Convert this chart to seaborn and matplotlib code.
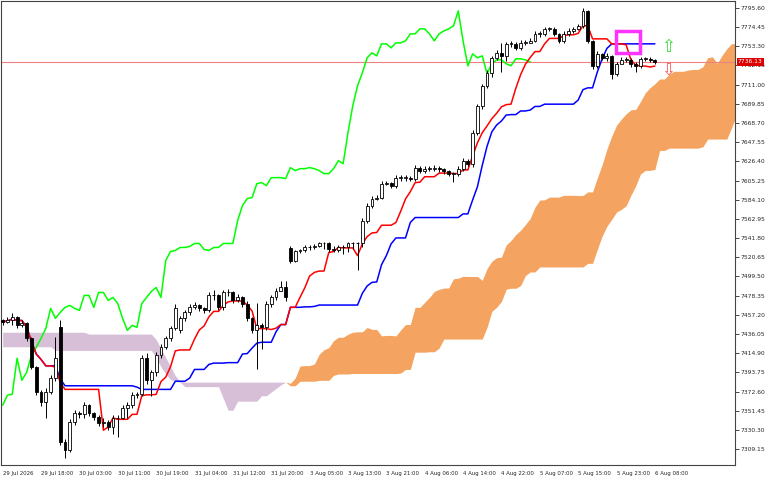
import numpy as np
import pandas as pd
import matplotlib
matplotlib.use("Agg")
import matplotlib.pyplot as plt
import seaborn as sns
from matplotlib.patches import Rectangle

# -------------------------------
# Data (hourly candles)
# -------------------------------
closes = [7448.9, 7451.1, 7454.4, 7445.6, 7447.8, 7431.3, 7399.4, 7371.9, 7360.9, 7371.9,
          7387.3, 7409.3, 7316.8, 7308.1, 7338.9, 7348.8, 7347.7, 7357.6, 7348.8, 7344.4,
          7337.8, 7338.9, 7333.3, 7343.3, 7343.3, 7354.3, 7357.6, 7368.6, 7369.7, 7409.3,
          7385.1, 7393.9, 7412.6, 7421.4, 7431.3, 7442.3, 7464.3, 7453.3, 7459.9, 7465.4,
          7467.6, 7464.3, 7462.1, 7478.6, 7478.6, 7465.4, 7481.9, 7481.9, 7473.1, 7476.4,
          7469.6, 7453.3, 7440.1, 7445.6, 7443.4, 7469.6, 7476.4, 7483.0, 7487.4, 7476.4,
          7517.1, 7527.1, 7528.2, 7531.5, 7531.5, 7532.6, 7535.9, 7535.9, 7529.3, 7528.2,
          7531.5, 7531.5, 7535.9, 7535.9, 7535.9, 7561.2, 7577.7, 7585.4, 7586.5, 7601.9,
          7603.0, 7599.7, 7608.5, 7608.5, 7608.5, 7607.4, 7619.5, 7616.2, 7618.4, 7618.4,
          7619.5, 7618.4, 7616.2, 7612.9, 7612.9, 7618.4, 7627.2, 7623.9, 7658.0, 7687.7,
          7709.7, 7724.1, 7740.6, 7746.1, 7742.8, 7756.0, 7756.0, 7751.6, 7757.1, 7757.1,
          7759.3, 7767.0, 7767.0, 7772.5, 7772.5, 7767.0, 7759.3, 7767.0, 7770.3, 7772.5,
          7775.8, 7792.3, 7759.3, 7731.8, 7745.0, 7740.6, 7742.8, 7723.0, 7734.0, 7738.4,
          7738.4, 7734.0, 7731.8, 7739.5, 7739.5, 7738.4, 7736.13]
highs = [7453, 7455, 7459, 7456, 7451, 7449, 7433, 7401, 7374, 7377,
         7391, 7433, 7451, 7320, 7342, 7352, 7351, 7361, 7359, 7350,
         7347, 7343, 7341, 7347, 7347, 7358, 7361, 7372, 7372, 7413,
         7415, 7396, 7416, 7425, 7434, 7445, 7469, 7456, 7463, 7469,
         7471, 7469, 7466, 7482, 7485, 7480, 7485, 7486, 7484, 7480,
         7478, 7472, 7455, 7470, 7448, 7472, 7479, 7487, 7495, 7494,
         7533, 7529, 7530, 7534, 7534, 7535, 7538, 7538, 7538, 7533,
         7534, 7534, 7538, 7538, 7538, 7564, 7580, 7588, 7589, 7605,
         7605, 7604, 7611, 7611, 7611, 7610, 7622, 7621, 7621, 7621,
         7622, 7621, 7619, 7617, 7615, 7621, 7630, 7629, 7661, 7690,
         7712, 7727, 7743, 7749, 7757, 7758, 7759, 7758, 7760, 7760,
         7762, 7770, 7770, 7775, 7775, 7775, 7768, 7770, 7773, 7775,
         7778, 7795, 7793, 7760, 7748, 7746, 7746, 7744, 7736, 7741,
         7741, 7740, 7736, 7742, 7742, 7741, 7739]
lows = [7446, 7448, 7446, 7443, 7444, 7428, 7397, 7369, 7357, 7343,
        7370, 7384, 7314, 7299, 7306, 7336, 7344, 7344, 7346, 7341,
        7335, 7333, 7330, 7326, 7323, 7342, 7343, 7355, 7366, 7368,
        7381, 7368, 7390, 7410, 7419, 7428, 7440, 7437, 7450, 7457,
        7464, 7461, 7459, 7460, 7474, 7462, 7463, 7478, 7470, 7471,
        7466, 7450, 7437, 7398, 7420, 7440, 7466, 7474, 7484, 7473,
        7514, 7516, 7525, 7527, 7529, 7530, 7532, 7530, 7527, 7526,
        7527, 7524, 7527, 7530, 7507, 7532, 7559, 7575, 7584, 7585,
        7600, 7597, 7597, 7605, 7605, 7605, 7605, 7614, 7614, 7616,
        7616, 7615, 7613, 7610, 7604, 7610, 7616, 7621, 7620, 7655,
        7684, 7707, 7720, 7738, 7725, 7737, 7752, 7749, 7749, 7755,
        7757, 7758, 7764, 7765, 7770, 7765, 7757, 7757, 7765, 7768,
        7771, 7773, 7757, 7728, 7729, 7738, 7737, 7717, 7721, 7735,
        7736, 7730, 7725, 7729, 7737, 7736, 7734]
first_open = 7452.0
gap_opens = {12: 7443.4, 37: 7440.1, 60: 7530.4}

# cloud values for the first 60 bars (built from history before the window)
hist_span_a = [7422, 7422, 7422, 7422, 7422, 7422, 7422, 7422, 7422, 7422,
               7422, 7418, 7418, 7418, 7418, 7418, 7418, 7418, 7418, 7418,
               7418, 7418, 7418, 7418, 7418, 7418, 7418, 7418, 7418, 7418,
               7418, 7418, 7410, 7400, 7392, 7386, 7384, 7383, 7378, 7378,
               7378, 7378, 7378, 7378, 7378, 7378, 7365, 7352, 7352, 7362,
               7362, 7362, 7362, 7362, 7368, 7368, 7372, 7376, 7380, 7383]
hist_span_b = [7438, 7438, 7438, 7438, 7438, 7438, 7438, 7438, 7438, 7438,
               7438, 7438, 7438, 7438, 7438, 7438, 7438, 7438, 7436, 7436,
               7436, 7436, 7436, 7436, 7436, 7436, 7436, 7436, 7436, 7436,
               7436, 7436, 7430, 7420, 7410, 7400, 7390, 7384, 7383, 7383,
               7383, 7383, 7383, 7383, 7383, 7383, 7383, 7383, 7383, 7383,
               7383, 7383, 7383, 7383, 7383, 7383, 7383, 7383, 7383, 7383]

tick_labels = ["29 Jul 2026", "29 Jul 18:00", "30 Jul 03:00", "30 Jul 11:00", "30 Jul 19:00",
               "31 Jul 04:00", "31 Jul 12:00", "31 Jul 20:00", "3 Aug 05:00", "3 Aug 13:00",
               "3 Aug 21:00", "4 Aug 06:00", "4 Aug 14:00", "4 Aug 22:00", "5 Aug 07:00",
               "5 Aug 15:00", "5 Aug 23:00", "6 Aug 08:00"]
price_ticks = [7795.60, 7774.45, 7753.30, 7732.15, 7711.00, 7689.85, 7668.70, 7647.55,
               7626.40, 7605.25, 7584.10, 7562.95, 7541.80, 7520.65, 7499.50, 7478.35,
               7457.20, 7436.05, 7414.90, 7393.75, 7372.60, 7351.45, 7330.30, 7309.15]
last_price = 7736.13

# -------------------------------
# Ichimoku
# -------------------------------
df = pd.DataFrame({"close": closes, "high": highs, "low": lows})
opens = [first_open] + closes[:-1]
for k, v in gap_opens.items():
    opens[k] = v
df["open"] = opens
n = len(df)
shift = 26

def mid(period):
    return (df["high"].rolling(period, min_periods=1).max()
            + df["low"].rolling(period, min_periods=1).min()) / 2

df["tenkan"] = mid(9)
df["kijun"] = mid(26)
span_a = np.full(n + shift, np.nan)
span_b = np.full(n + shift, np.nan)
span_a[shift:] = ((df["tenkan"] + df["kijun"]) / 2).values
span_b[shift:] = mid(52).values
span_a[:60] = hist_span_a
span_b[:60] = hist_span_b
xs = np.arange(n + shift)

# -------------------------------
# Plot
# -------------------------------
sns.set_style("white")
plt.rcParams["font.family"] = ["DejaVu Sans"]
fig = plt.figure(figsize=(7.68, 4.8), dpi=100)
ax = fig.add_axes([0.001, 0.031, 0.956, 0.967])

ax.fill_between(xs, span_a, span_b, where=span_a >= span_b, interpolate=True,
                color="#F4A460", lw=0)
ax.fill_between(xs, span_a, span_b, where=span_a < span_b, interpolate=True,
                color="#D8BFD8", lw=0)

ax.axhline(last_price, color="#F08080", lw=0.8)

idx = np.arange(n)
sns.lineplot(x=idx[:-shift], y=df["close"].values[shift:], color="#00FF00", lw=1.1, ax=ax)
sns.lineplot(x=idx, y=df["kijun"].values, color="#0000FF", lw=1.1, ax=ax)
sns.lineplot(x=idx, y=df["tenkan"].values, color="#FF0000", lw=1.1, ax=ax)

w = 0.6
for i, r in df.iterrows():
    ax.vlines(i, r["low"], r["high"], color="black", lw=0.7, zorder=3)
    lo, hi = min(r["open"], r["close"]), max(r["open"], r["close"])
    fc = "white" if r["close"] >= r["open"] else "black"
    ax.add_patch(Rectangle((i - w / 2, lo), w, max(hi - lo, 0.6), facecolor=fc,
                           edgecolor="black", lw=0.6, zorder=4))

ax.add_patch(Rectangle((127.8, 7745.5), 5.0, 24.5, fill=False, edgecolor="#FF33FF",
                       lw=2.5, zorder=5))
ax.text(138.8, 7752, "\u21e7", color="#33DD33", fontsize=12, ha="center", va="center")
ax.text(138.8, 7728, "\u21e9", color="#FF5555", fontsize=12, ha="center", va="center")

ax.set_xlim(-0.4, 152.7)
ax.set_ylim(7291.5, 7803.3)
ax.set_xticks(np.arange(0, 8 * len(tick_labels), 8))
ax.set_xticklabels(tick_labels, fontsize=3.9, ha="left")
ax.yaxis.tick_right()
ax.set_yticks(price_ticks)
ax.set_yticklabels([f"{p:.2f}" for p in price_ticks], fontsize=4.3)
ax.tick_params(length=3, width=0.6, pad=1)
ax.set_xlabel("")
ax.set_ylabel("")
for s in ax.spines.values():
    s.set_color("#444444")
    s.set_linewidth(0.8)

ax.annotate(f"{last_price:.2f}", xy=(1.0, last_price), xycoords=("axes fraction", "data"),
            xytext=(2, 0), textcoords="offset points", fontsize=4.3, color="white",
            va="center", ha="left",
            bbox=dict(boxstyle="square,pad=0.2", fc="#DD0000", ec="none"))

plt.savefig("out.png", dpi=100)
